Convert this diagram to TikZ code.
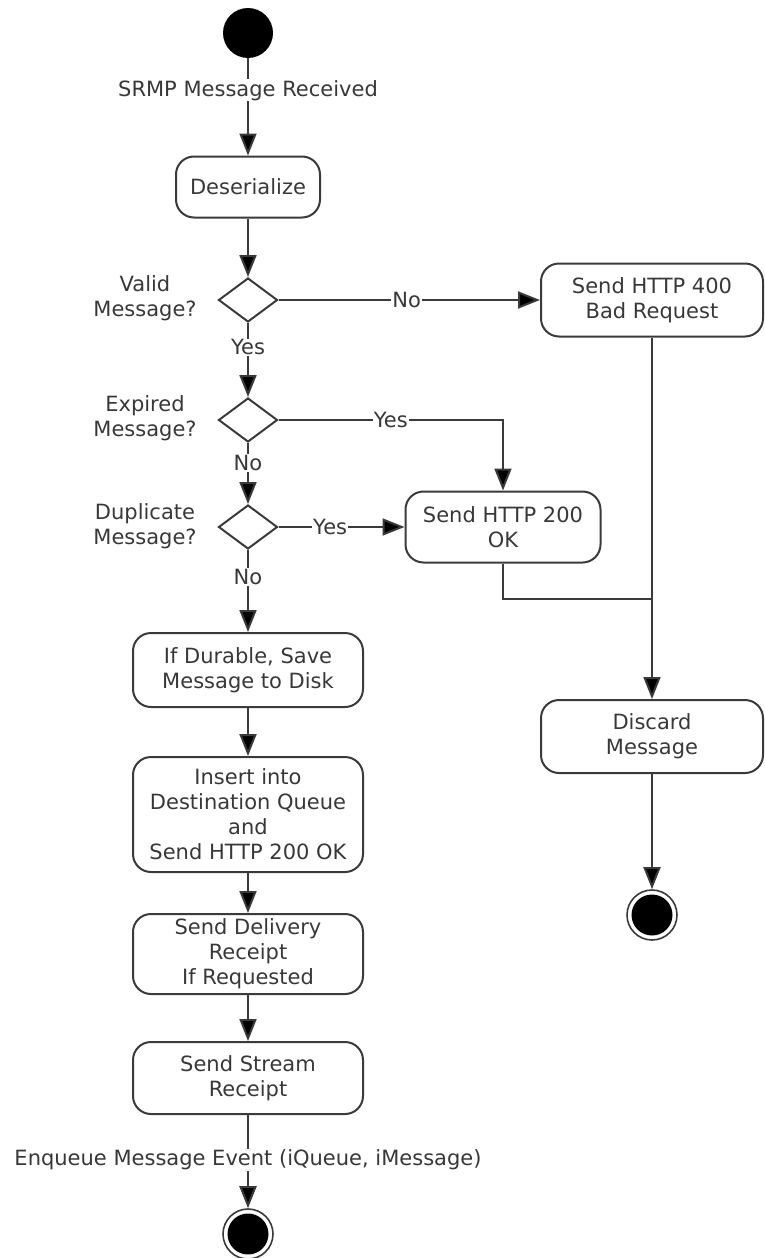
\documentclass[tikz,border=0pt]{standalone}
\usepackage{fontspec}
\setmainfont{DejaVu Sans}
\usetikzlibrary{shapes.geometric,arrows.meta}
\definecolor{ln}{HTML}{3A3A3A}
\definecolor{tx}{HTML}{383838}
\tikzset{
  base/.style={font=\fontsize{21}{25}\selectfont, text=tx},
  act/.style={base, draw=ln, line width=2pt, rounded corners=18pt, align=center, inner sep=0pt},
  dec/.style={draw=ln, line width=2pt, diamond, minimum width=59pt, minimum height=44pt, inner sep=0pt},
  lbl/.style={base, fill=white, inner sep=1pt, align=center},
  side/.style={base, align=center},
  conn/.style={draw=ln, line width=2pt},
  arr/.style={conn, -{Triangle[length=22pt,width=17pt,fill=black]}},
  startnode/.style={circle, fill=black, minimum size=50pt, inner sep=0pt},
  endnode/.style={circle, draw=ln, line width=1.6pt, minimum size=50pt, inner sep=0pt},
}
\begin{document}
\begin{tikzpicture}[x=1pt,y=-1pt]
\useasboundingbox (0,0) rectangle (764,1258);
% nodes
\node[startnode] (start) at (248,33) {};
\node[act, minimum width=144pt, minimum height=61pt] (deser) at (248,187) {Deserialize};
\node[dec] (valid) at (248,300) {};
\node[side] (validl) at (145,298) {Valid\\Message?};
\node[act, minimum width=222pt, minimum height=73pt] (e400) at (652,300) {Send HTTP 400\\Bad Request};
\node[dec] (expired) at (248,420) {};
\node[side] (expiredl) at (145,418) {Expired\\Message?};
\node[dec] (dup) at (248,527) {};
\node[side] (dupl) at (145,526) {Duplicate\\Message?};
\node[act, minimum width=195pt, minimum height=71pt] (ok200) at (503,527) {Send HTTP 200\\OK};
\node[act, minimum width=230pt, minimum height=74pt] (durable) at (248,670) {If Durable, Save\\Message to Disk};
\node[act, minimum width=230pt, minimum height=115pt] (insert) at (248,814.5) {Insert into\\Destination Queue\\and\\Send HTTP 200 OK};
\node[act, minimum width=230pt, minimum height=80pt] (delivery) at (248,954) {Send Delivery\\Receipt\\If Requested};
\node[act, minimum width=230pt, minimum height=72pt] (stream) at (248,1078) {Send Stream\\Receipt};
\node[endnode] (end1) at (248,1234) {};
\fill[black] (end1.center) circle (20.5pt);
\node[act, minimum width=222pt, minimum height=73pt] (discard) at (652,736.5) {Discard\\Message};
\node[endnode] (end2) at (652,915) {};
\fill[black] (end2.center) circle (20.5pt);
\coordinate (join) at (652,599);
% connectors
\draw[arr] (start) -- node[lbl, pos=0.33] {SRMP Message Received} (deser);
\draw[arr] (deser) -- (valid);
\draw[arr] (valid) -- node[lbl, pos=0.49] {No} (e400);
\draw[arr] (valid) -- node[lbl, pos=0.33] {Yes} (expired);
\draw[arr] (expired.east) -| node[lbl, pos=0.25] {Yes} (ok200.north);
\draw[arr] (expired) -- node[lbl, pos=0.33] {No} (dup);
\draw[arr] (dup) -- node[lbl, pos=0.41] {Yes} (ok200);
\draw[arr] (dup) -- node[lbl, pos=0.33] {No} (durable);
\draw[arr] (durable) -- (insert);
\draw[arr] (insert) -- (delivery);
\draw[arr] (delivery) -- (stream);
\draw[arr] (stream) -- node[lbl, pos=0.48] {Enqueue Message Event (iQueue, iMessage)} (end1);
\draw[conn] (ok200.south) |- (join);
\draw[arr] (e400) -- (discard);
\draw[arr] (discard) -- (end2);
\end{tikzpicture}
\end{document}
